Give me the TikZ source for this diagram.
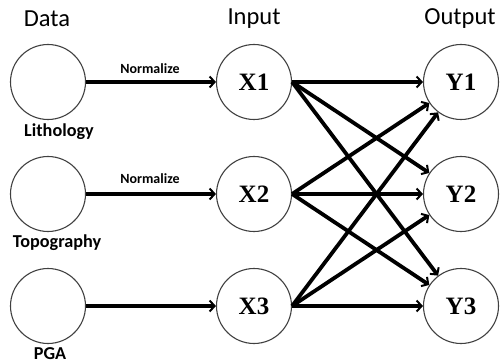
\documentclass[tikz,border=0pt]{standalone}
\usepackage{fontspec}
\setmainfont{Carlito}
\newfontfamily\serifb{Liberation Serif}
\usetikzlibrary{arrows.meta}
\begin{document}
\begin{tikzpicture}[x=1pt,y=-1pt,
  neuron/.style={circle,draw=black!75,line width=1.1pt,minimum size=75pt,inner sep=0pt},
  head/.style={font=\fontsize{24.5}{28}\selectfont},
  dlabel/.style={font=\bfseries\fontsize{18.2}{20}\selectfont},
  nlabel/.style={font=\bfseries\fontsize{14}{16}\selectfont},
  conn/.style={line width=3.8pt,-{Straight Barb[length=5pt,width=11pt,line width=2pt]}},
  vname/.style={font=\serifb\bfseries\fontsize{25}{28}\selectfont}]
\useasboundingbox (0,0) rectangle (500,363);
\node[head] (hd) at (47,19) {Data};
\node[head] (hi) at (254,19) {Input};
\node[head] (ho) at (460,19) {Output};
\node[neuron] (d1) at (48,82) {};
\node[neuron] (d2) at (48,194) {};
\node[neuron] (d3) at (48,306) {};
\node[dlabel] (l1) at (59,132) {Lithology};
\node[dlabel] (l2) at (57,243) {Topography};
\node[dlabel] (l3) at (50,354) {PGA};
\node[neuron,vname] (x1) at (254,82) {X1};
\node[neuron,vname] (x2) at (254,194) {X2};
\node[neuron,vname] (x3) at (254,306) {X3};
\node[neuron,vname] (y1) at (461,82) {Y1};
\node[neuron,vname] (y2) at (461,194) {Y2};
\node[neuron,vname] (y3) at (461,306) {Y3};
\draw[conn] (d1) -- (x1);
\draw[conn] (d2) -- (x2);
\draw[conn] (d3) -- (x3);
\node[nlabel] (n1) at (150,69) {Normalize};
\node[nlabel] (n2) at (150,179) {Normalize};
\foreach \i in {1,2,3}{
  \foreach \j in {1,2,3}{
    \draw[conn] (x\i.east) -- (y\j);
  }
}
\end{tikzpicture}
\end{document}
